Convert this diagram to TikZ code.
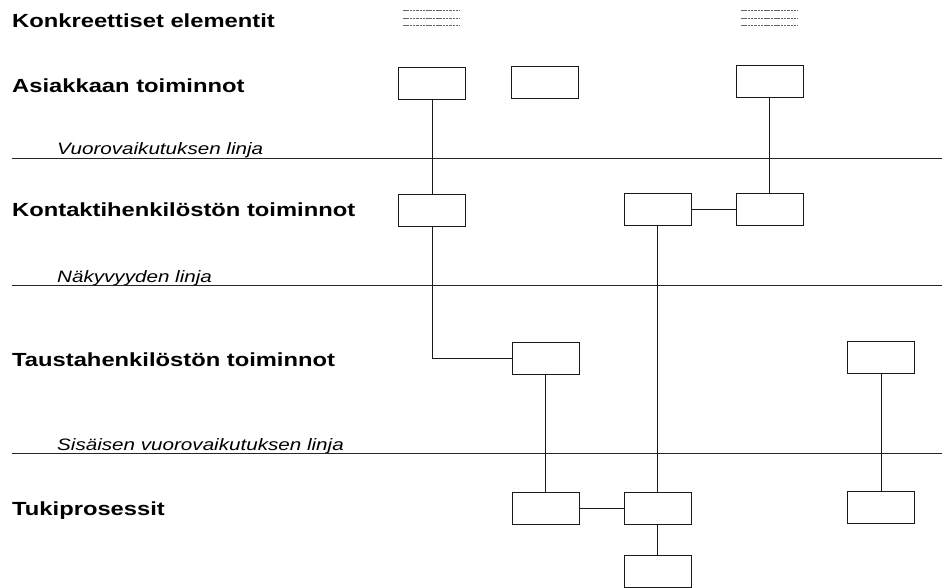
\documentclass[tikz,border=0pt]{standalone}
\usepackage{fontspec}
\setmainfont[FakeStretch=1.25]{Liberation Sans}
\begin{document}
\begin{tikzpicture}[x=1pt,y=-1pt,
  rowlabel/.style={anchor=base west,inner sep=0pt,font=\fontsize{19}{22}\selectfont\bfseries},
  linelabel/.style={anchor=base west,inner sep=0pt,font=\fontsize{16.5}{19}\selectfont\itshape},
  sepline/.style={line width=0.9pt,black!85},
  actbox/.style={draw=black!90,line width=0.9pt,minimum width=67pt,minimum height=32pt,inner sep=0pt},
  conn/.style={line width=0.9pt,black!90},
  scrib/.style={line width=1pt,black!60,dash pattern=on 2.5pt off 0.8pt}]
\useasboundingbox (0,0) rectangle (942,588);

% row labels
\node[rowlabel] (l1) at (12,28) {Konkreettiset elementit};
\node[rowlabel] (l2) at (12,93) {Asiakkaan toiminnot};
\node[rowlabel] (l3) at (12,217) {Kontaktihenkilöstön toiminnot};
\node[rowlabel] (l4) at (12,366) {Taustahenkilöstön toiminnot};
\node[rowlabel] (l5) at (12,515) {Tukiprosessit};

% separating lines
\node[linelabel] (v1) at (57,155) {Vuorovaikutuksen linja};
\draw[sepline] (12,158) coordinate (v1a) -- (942,158) coordinate (v1b);
\node[linelabel] (v2) at (57,282) {Näkyvyyden linja};
\draw[sepline] (12,285) coordinate (v2a) -- (942,285) coordinate (v2b);
\node[linelabel] (v3) at (57,450) {Sisäisen vuorovaikutuksen linja};
\draw[sepline] (12,453) coordinate (v3a) -- (942,453) coordinate (v3b);

% concrete elements (illegible small text)
\foreach \yy in {11,19,26}{
  \draw[scrib] (403,\yy) -- (460,\yy);
  \draw[scrib] (741,\yy) -- (798,\yy);
}

% boxes
\node[actbox] (a1) at (432,83) {};
\node[actbox] (a2) at (544.5,82.5) {};
\node[actbox] (a3) at (769.5,81.5) {};
\node[actbox] (k1) at (432,210) {};
\node[actbox] (k2) at (657.5,209.5) {};
\node[actbox] (k3) at (769.5,209.5) {};
\node[actbox] (t1) at (545.5,358) {};
\node[actbox] (t2) at (881,357) {};
\node[actbox] (s1) at (545.5,508) {};
\node[actbox] (s2) at (657.5,508) {};
\node[actbox] (s3) at (881,507) {};
\node[actbox] (b1) at (657.5,571) {};

% connectors
\draw[conn] (a1.south) -- (k1.north);
\draw[conn] (a3.south) -- (k3.north);
\draw[conn] (k2.east) -- (k3.west);
\draw[conn] (k1.south) |- (t1.west);
\draw[conn] (k2.south) -- (s2.north);
\draw[conn] (t1.south) -- (s1.north);
\draw[conn] (t2.south) -- (s3.north);
\draw[conn] (s1.east) -- (s2.west);
\draw[conn] (s2.south) -- (b1.north);
\end{tikzpicture}
\end{document}
